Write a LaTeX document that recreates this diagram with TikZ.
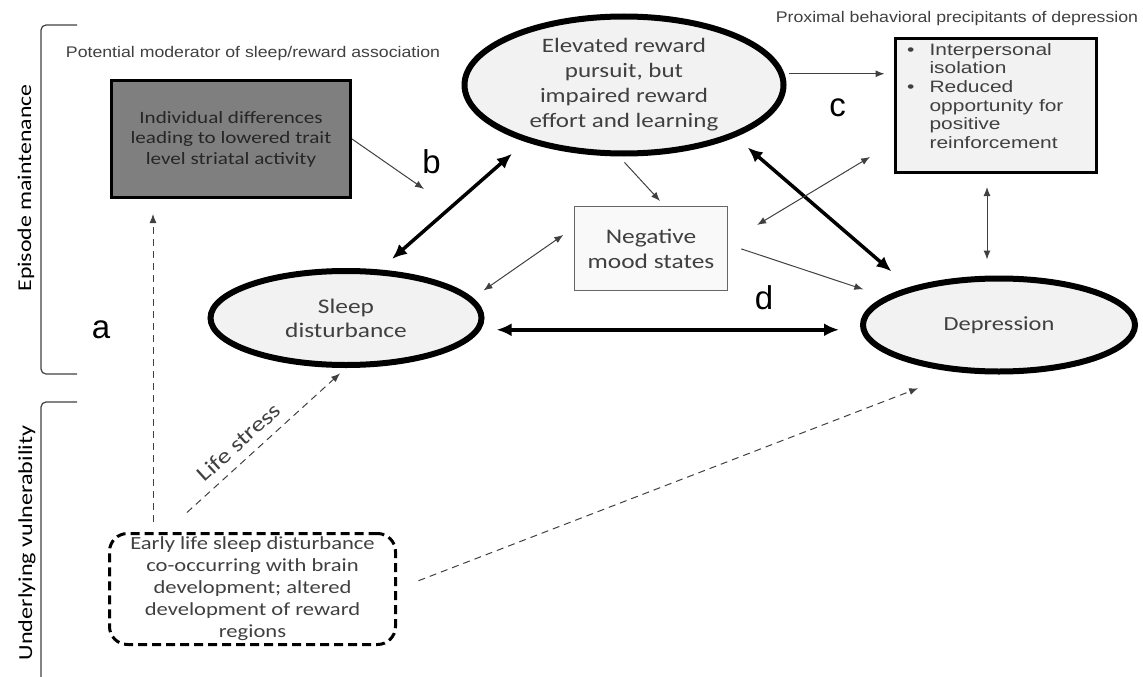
\documentclass[tikz,border=0pt]{standalone}
\usepackage{fontspec}
\setmainfont{Carlito}[FakeStretch=1.22]
\newfontfamily\arialfont{Liberation Sans}[FakeStretch=1.15]
\newfontfamily\bulletfont{Liberation Sans}[FakeStretch=1.27]
\newfontfamily\letterfont{Liberation Sans}
\usetikzlibrary{arrows.meta,shapes.geometric}
\definecolor{ovalfill}{HTML}{F2F2F2}
\definecolor{modfill}{HTML}{7F7F7F}
\definecolor{txtgray}{HTML}{404040}
\definecolor{linegray}{HTML}{404040}
\begin{document}
\begin{tikzpicture}[x=1pt,y=-1pt,
  oval/.style={ellipse,draw,line width=6pt,fill=ovalfill,text=txtgray,align=center,inner sep=0pt},
  box/.style={draw,rectangle,align=center,inner sep=0pt},
  bigboth/.style={{Latex[length=15pt,width=13pt]}-{Latex[length=15pt,width=13pt]},line width=3.5pt},
  thinone/.style={-{Latex[length=9pt,width=7pt]},line width=1pt,draw=linegray},
  thinboth/.style={{Latex[length=9pt,width=7pt]}-{Latex[length=9pt,width=7pt]},line width=1pt,draw=linegray},
  dashone/.style={-{Latex[length=9pt,width=7pt]},line width=1pt,draw=linegray,dash pattern=on 7pt off 5pt},
  letter/.style={font=\letterfont\fontsize{33}{33}\selectfont},
  head/.style={font=\arialfont\fontsize{15.4}{15.4}\selectfont,text=txtgray},
  side/.style={rotate=90},
  brk/.style={draw=txtgray,line width=1.2pt,rounded corners=5pt}]
\useasboundingbox (0,0) rectangle (1143,677);
\draw[brk] (77,25) -- (41,25) -- (41,374) -- (77,374);
\draw[brk] (77,402) -- (41,402) -- (41,677);
\node[side,font=\fontsize{19.5}{19.5}\selectfont] (epis) at (26,188) {Episode maintenance};
\node[side,font=\fontsize{19.8}{19.8}\selectfont] (vuln) at (27,543) {Underlying vulnerability};
\node[head] (modhead) at (253,54) {Potential moderator of sleep/reward association};
\node[head] (proxhead) at (957,19) {Proximal behavioral precipitants of depression};
\node[oval,minimum width=319pt,minimum height=137pt,font=\fontsize{20.5}{25}\selectfont] (reward) at (624,85) {Elevated reward\\pursuit, but\\impaired reward\\effort and learning};
\node[oval,minimum width=271pt,minimum height=94pt,font=\fontsize{20.8}{24}\selectfont] (sleep) at (346,318) {Sleep\\disturbance};
\node[oval,minimum width=272pt,minimum height=93pt,font=\fontsize{20}{24}\selectfont] (dep) at (999,325) {Depression};
\node[box,line width=3pt,fill=modfill,text=black!85,minimum width=239pt,minimum height=117pt,font=\fontsize{17.3}{20.5}\selectfont] (mod) at (231,139) {Individual differences\\leading to lowered trait\\level striatal activity};
\node[box,line width=1pt,draw=linegray!80,fill=gray!5,text=txtgray,minimum width=153pt,minimum height=84pt,font=\fontsize{20.8}{25}\selectfont] (neg) at (651,248.5) {Negative\\mood states};
\node[box,line width=3pt,fill=ovalfill,minimum width=201pt,minimum height=134pt] (prox) at (996,105.5) {};
\node[anchor=north west,inner sep=0pt,text=txtgray,font=\bulletfont\fontsize{16.5}{18.6}\selectfont] (proxtxt) at (907,42) {\begin{tabular}{@{}l@{\hspace{15pt}}l@{}}\textbullet & Interpersonal\\ & isolation\\ \textbullet & Reduced\\ & opportunity for\\ & positive\\ & reinforcement\end{tabular}};
\node[box,line width=3pt,dash pattern=on 9pt off 5pt,rounded corners=18pt,text=txtgray,minimum width=286pt,minimum height=111pt,font=\fontsize{18.5}{22}\selectfont] (early) at (252.5,589) {Early life sleep disturbance\\co-occurring with brain\\development; altered\\development of reward\\regions};
\node[letter] (la) at (101,329.5) {a};
\node[letter] (lb) at (431.5,161.5) {b};
\node[letter] (lc) at (837.5,107.5) {c};
\node[letter] (ld) at (764,297.5) {d};
\coordinate (bpt) at (424,189);
\draw[thinone] (mod.east) -- (bpt);
\draw[thinone,shorten <=8pt] (reward.266) -- ([xshift=9pt,yshift=5pt]neg.north);
\draw[thinone,shorten <=5pt,shorten >=9.5pt] (reward.4.5) -- (prox.west |- reward.4.5);
\draw[bigboth,shorten <=18pt,shorten >=16pt] (reward.210) -- (sleep.55);
\draw[bigboth,shorten <=16pt,shorten >=24pt] (reward.335) -- (dep.157);
\draw[bigboth,shorten <=16pt,shorten >=21pt] (sleep.-5) -- (sleep.-5 -| dep.west);
\draw[thinboth,shorten <=13pt,shorten >=13pt] (sleep.9) -- ([yshift=21pt]neg.west);
\draw[thinboth,shorten <=34pt,shorten >=28pt] ([yshift=6pt]neg.east) -- ([yshift=-37pt]prox.west);
\draw[thinone,shorten <=14pt,shorten >=23pt] ([yshift=4pt]neg.east) -- (dep.166);
\draw[thinboth,shorten <=13pt,shorten >=16pt] ([xshift=-9pt]prox.south) -- ([xshift=-9pt]prox.south |- dep.north);
\draw[dashone,shorten <=10pt,shorten >=15pt] ([xshift=-99.5pt]early.north) -- ([xshift=-99.5pt]early.north |- mod.south);
\draw[dashone,shorten <=29pt,shorten >=8pt] ([xshift=-87pt]early.north) -- (sleep.south) node[pos=.47,sloped,above=6pt,text=txtgray,font=\fontsize{21.5}{21.5}\selectfont] (stress) {Life stress};
\draw[dashone,shorten <=23pt,shorten >=44pt] (early.east) -- (dep.230);
\end{tikzpicture}
\end{document}
